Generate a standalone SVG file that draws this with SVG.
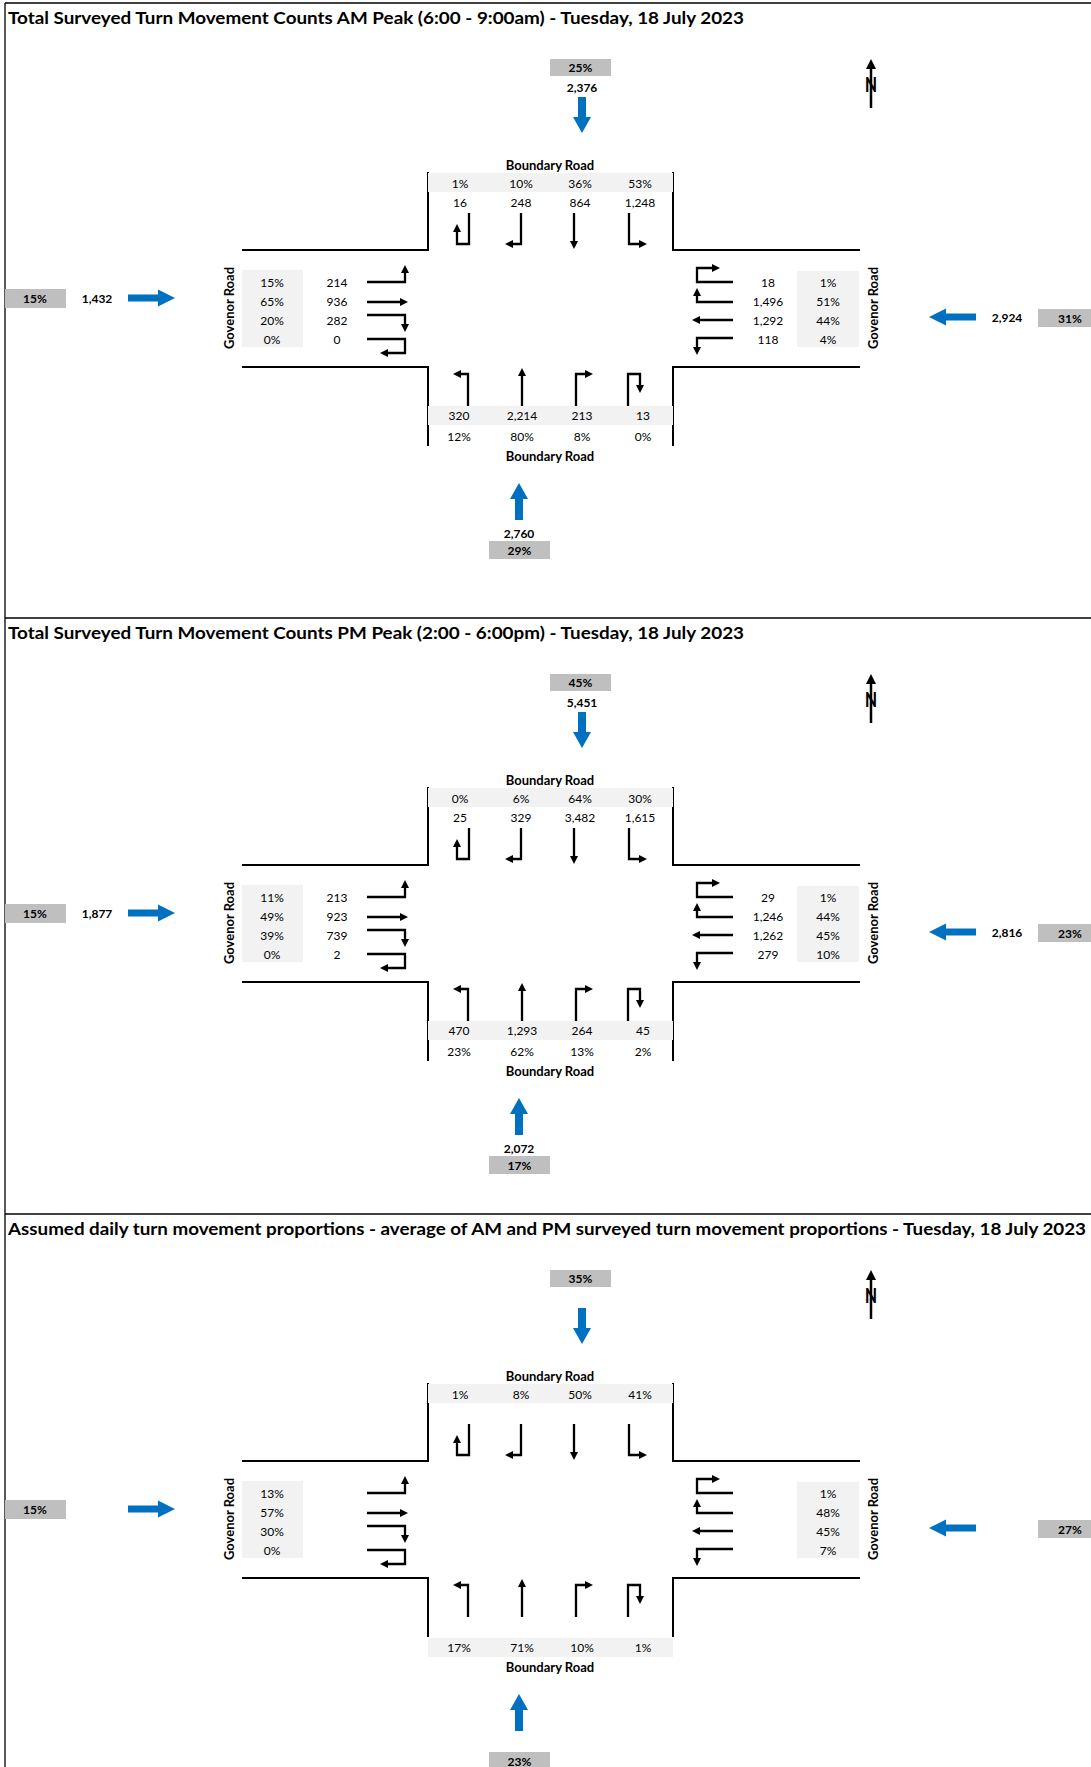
<svg xmlns="http://www.w3.org/2000/svg" width="1091" height="1767" viewBox="0 0 1091 1767">
<style>
text{font-family:Lato,"Liberation Sans",sans-serif;font-size:12px;text-anchor:middle;fill:#000}
.b{font-weight:bold}
.ttl{font-size:17.5px;font-weight:bold;text-anchor:start}
.rd{font-size:13px;font-weight:bold}
.gb{fill:#BFBFBF}
.lb{fill:#F2F2F2}
.road{fill:none;stroke:#000;stroke-width:2}
.mv{fill:none;stroke:#000;stroke-width:2.3}
.blue{fill:#0070C0}
.frame{stroke:#000;stroke-width:1.3}
.nn{font-size:20px;font-weight:900}
</style>
<defs>
<marker id="ah" viewBox="0 -4 8 8" refX="0" refY="0" markerWidth="8" markerHeight="8" markerUnits="userSpaceOnUse" orient="auto"><path d="M0,-4L8,0L0,4Z" fill="#000"/></marker>
<g id="mv" class="mv">
<path d="M469,213V244H457V232" marker-end="url(#ah)"/>
<path d="M521,213V244H513" marker-end="url(#ah)"/>
<path d="M574,213V241" marker-end="url(#ah)"/>
<path d="M629,213V244H639" marker-end="url(#ah)"/>
<path d="M367,282H405V273" marker-end="url(#ah)"/>
<path d="M367,302H400" marker-end="url(#ah)"/>
<path d="M367,315H405V324" marker-end="url(#ah)"/>
<path d="M367,339H405V353H388" marker-end="url(#ah)"/>
<path d="M733,282H697V268H712" marker-end="url(#ah)"/>
<path d="M733,302H697V296" marker-end="url(#ah)"/>
<path d="M733,320H700" marker-end="url(#ah)"/>
<path d="M733,338H697V347" marker-end="url(#ah)"/>
<path d="M468,406V374H461" marker-end="url(#ah)"/>
<path d="M522,406V376" marker-end="url(#ah)"/>
<path d="M576,406V374H585" marker-end="url(#ah)"/>
<path d="M628,406V374H640V385" marker-end="url(#ah)"/>
</g>
<g id="north">
<path d="M871,68V108" stroke="#000" stroke-width="2.5"/>
<path d="M871,59L866,69H876Z" fill="#000"/>
<text class="nn" x="871" y="92" textLength="12" lengthAdjust="spacingAndGlyphs">N</text>
</g>
<path id="bdown" class="blue" d="M-4,-36H4V-16H9L0,0L-9,-16H-4Z"/>
<path id="bup" class="blue" d="M-4,37H4V16H9L0,0L-9,16H-4Z"/>
<path id="bright" class="blue" d="M-47,-3.5H-17V-8.5L0,0L-17,8.5V3.5H-47Z"/>
<path id="bleft" class="blue" d="M0,0L17,-8.5V-3.5H47V3.5H17V8.5Z"/>
</defs>

<g id="frame">
<line class="frame" x1="5" y1="3" x2="1091" y2="3"/>
<line class="frame" x1="5" y1="618" x2="1091" y2="618"/>
<line class="frame" x1="5" y1="1214" x2="1091" y2="1214"/>
<line class="frame" x1="5" y1="3" x2="5" y2="1767"/>
</g>

<!-- ================= AM PANEL ================= -->
<g id="am-panel">
<text class="ttl" x="8" y="24" textLength="736" lengthAdjust="spacingAndGlyphs">Total Surveyed Turn Movement Counts AM Peak (6:00 - 9:00am) - Tuesday, 18 July 2023</text>
<use href="#north"/>
<g id="am-roads" class="road">
<path d="M242,250H428V172"/><path d="M673,172V250H860"/><path d="M242,367H428V446"/><path d="M673,446V367H860"/>
</g>
<g id="am-north-approach">
<rect class="gb" x="550" y="59" width="61" height="17"/>
<text class="b" x="580.5" y="72">25%</text>
<text class="b" x="582" y="92">2,376</text>
<use href="#bdown" x="582" y="133"/>
<text class="rd" x="550" y="169.5">Boundary Road</text>
<rect class="lb" x="428" y="173" width="245" height="19"/>
<text x="460" y="187.5">1%</text><text x="521" y="187.5">10%</text><text x="580" y="187.5">36%</text><text x="640" y="187.5">53%</text>
<text x="460" y="206.5">16</text><text x="521" y="206.5">248</text><text x="580" y="206.5">864</text><text x="640" y="206.5">1,248</text>
</g>
<g id="am-west-approach">
<rect class="gb" x="5" y="289" width="61" height="19"/>
<text class="b" x="35" y="302.5">15%</text>
<text class="b" x="97" y="302.5">1,432</text>
<use href="#bright" x="175" y="298"/>
<text class="rd" transform="translate(233.5,308) rotate(-90)">Govenor Road</text>
<rect class="lb" x="242" y="270" width="61" height="77"/>
<text x="272" y="286.5">15%</text><text x="272" y="306">65%</text><text x="272" y="325">20%</text><text x="272" y="343.5">0%</text>
<text x="337" y="286.5">214</text><text x="337" y="306">936</text><text x="337" y="325">282</text><text x="337" y="343.5">0</text>
</g>
<g id="am-east-approach">
<text x="768" y="286.5">18</text><text x="768" y="306">1,496</text><text x="768" y="325">1,292</text><text x="768" y="343.5">118</text>
<rect class="lb" x="797" y="271" width="62" height="76"/>
<text x="828" y="286.5">1%</text><text x="828" y="306">51%</text><text x="828" y="325">44%</text><text x="828" y="343.5">4%</text>
<text class="rd" transform="translate(877.5,308) rotate(-90)">Govenor Road</text>
<use href="#bleft" x="929" y="317"/>
<text class="b" x="1007" y="321.5">2,924</text>
<rect class="gb" x="1038" y="309" width="53" height="18"/>
<text class="b" x="1070" y="322.5">31%</text>
</g>
<g id="am-south-approach">
<rect class="lb" x="428" y="406" width="245" height="19"/>
<text x="459" y="420">320</text><text x="522" y="420">2,214</text><text x="582" y="420">213</text><text x="643" y="420">13</text>
<text x="459" y="441">12%</text><text x="522" y="441">80%</text><text x="582" y="441">8%</text><text x="643" y="441">0%</text>
<text class="rd" x="550" y="460.5">Boundary Road</text>
<use href="#bup" x="519" y="483"/>
<text class="b" x="519" y="537.5">2,760</text>
<rect class="gb" x="489" y="541" width="61" height="18"/>
<text class="b" x="519.5" y="554.5">29%</text>
</g>
<g id="am-connectors"><use href="#mv"/></g>
</g>

<!-- ================= PM PANEL ================= -->
<g id="pm-panel" transform="translate(0,615)">
<text class="ttl" x="8" y="24" textLength="736" lengthAdjust="spacingAndGlyphs">Total Surveyed Turn Movement Counts PM Peak (2:00 - 6:00pm) - Tuesday, 18 July 2023</text>
<use href="#north"/>
<g id="pm-roads" class="road">
<path d="M242,250H428V172"/><path d="M673,172V250H860"/><path d="M242,367H428V446"/><path d="M673,446V367H860"/>
</g>
<g id="pm-north-approach">
<rect class="gb" x="550" y="59" width="61" height="17"/>
<text class="b" x="580.5" y="72">45%</text>
<text class="b" x="582" y="92">5,451</text>
<use href="#bdown" x="582" y="133"/>
<text class="rd" x="550" y="169.5">Boundary Road</text>
<rect class="lb" x="428" y="173" width="245" height="19"/>
<text x="460" y="187.5">0%</text><text x="521" y="187.5">6%</text><text x="580" y="187.5">64%</text><text x="640" y="187.5">30%</text>
<text x="460" y="206.5">25</text><text x="521" y="206.5">329</text><text x="580" y="206.5">3,482</text><text x="640" y="206.5">1,615</text>
</g>
<g id="pm-west-approach">
<rect class="gb" x="5" y="289" width="61" height="19"/>
<text class="b" x="35" y="302.5">15%</text>
<text class="b" x="97" y="302.5">1,877</text>
<use href="#bright" x="175" y="298"/>
<text class="rd" transform="translate(233.5,308) rotate(-90)">Govenor Road</text>
<rect class="lb" x="242" y="270" width="61" height="77"/>
<text x="272" y="286.5">11%</text><text x="272" y="306">49%</text><text x="272" y="325">39%</text><text x="272" y="343.5">0%</text>
<text x="337" y="286.5">213</text><text x="337" y="306">923</text><text x="337" y="325">739</text><text x="337" y="343.5">2</text>
</g>
<g id="pm-east-approach">
<text x="768" y="286.5">29</text><text x="768" y="306">1,246</text><text x="768" y="325">1,262</text><text x="768" y="343.5">279</text>
<rect class="lb" x="797" y="271" width="62" height="76"/>
<text x="828" y="286.5">1%</text><text x="828" y="306">44%</text><text x="828" y="325">45%</text><text x="828" y="343.5">10%</text>
<text class="rd" transform="translate(877.5,308) rotate(-90)">Govenor Road</text>
<use href="#bleft" x="929" y="317"/>
<text class="b" x="1007" y="321.5">2,816</text>
<rect class="gb" x="1038" y="309" width="53" height="18"/>
<text class="b" x="1070" y="322.5">23%</text>
</g>
<g id="pm-south-approach">
<rect class="lb" x="428" y="406" width="245" height="19"/>
<text x="459" y="420">470</text><text x="522" y="420">1,293</text><text x="582" y="420">264</text><text x="643" y="420">45</text>
<text x="459" y="441">23%</text><text x="522" y="441">62%</text><text x="582" y="441">13%</text><text x="643" y="441">2%</text>
<text class="rd" x="550" y="460.5">Boundary Road</text>
<use href="#bup" x="519" y="483"/>
<text class="b" x="519" y="537.5">2,072</text>
<rect class="gb" x="489" y="541" width="61" height="18"/>
<text class="b" x="519.5" y="554.5">17%</text>
</g>
<g id="pm-connectors"><use href="#mv"/></g>
</g>

<!-- ================= DAILY PANEL ================= -->
<g id="daily-panel" transform="translate(0,1211)">
<text class="ttl" x="8" y="24" textLength="1078" lengthAdjust="spacingAndGlyphs">Assumed daily turn movement proportions - average of AM and PM surveyed turn movement proportions - Tuesday, 18 July 2023</text>
<use href="#north"/>
<g id="daily-roads" class="road">
<path d="M242,250H428V172"/><path d="M673,172V250H860"/><path d="M242,367H428V426"/><path d="M673,426V367H860"/>
</g>
<g id="daily-north-approach">
<rect class="gb" x="550" y="59" width="61" height="17"/>
<text class="b" x="580.5" y="72">35%</text>
<use href="#bdown" x="582" y="133"/>
<text class="rd" x="550" y="169.5">Boundary Road</text>
<rect class="lb" x="428" y="173" width="245" height="19"/>
<text x="460" y="187.5">1%</text><text x="521" y="187.5">8%</text><text x="580" y="187.5">50%</text><text x="640" y="187.5">41%</text>
</g>
<g id="daily-west-approach">
<rect class="gb" x="5" y="289" width="61" height="19"/>
<text class="b" x="35" y="302.5">15%</text>
<use href="#bright" x="175" y="298"/>
<text class="rd" transform="translate(233.5,308) rotate(-90)">Govenor Road</text>
<rect class="lb" x="242" y="270" width="61" height="77"/>
<text x="272" y="286.5">13%</text><text x="272" y="306">57%</text><text x="272" y="325">30%</text><text x="272" y="343.5">0%</text>
</g>
<g id="daily-east-approach">
<rect class="lb" x="797" y="271" width="62" height="76"/>
<text x="828" y="286.5">1%</text><text x="828" y="306">48%</text><text x="828" y="325">45%</text><text x="828" y="343.5">7%</text>
<text class="rd" transform="translate(877.5,308) rotate(-90)">Govenor Road</text>
<use href="#bleft" x="929" y="317"/>
<rect class="gb" x="1038" y="309" width="53" height="18"/>
<text class="b" x="1070" y="322.5">27%</text>
</g>
<g id="daily-south-approach">
<rect class="lb" x="428" y="427" width="245" height="19"/>
<text x="459" y="441">17%</text><text x="522" y="441">71%</text><text x="582" y="441">10%</text><text x="643" y="441">1%</text>
<text class="rd" x="550" y="460.5">Boundary Road</text>
<use href="#bup" x="519" y="483"/>
<rect class="gb" x="489" y="541" width="61" height="18"/>
<text class="b" x="519.5" y="554.5">23%</text>
</g>
<g id="daily-connectors"><use href="#mv"/></g>
</g>
</svg>
